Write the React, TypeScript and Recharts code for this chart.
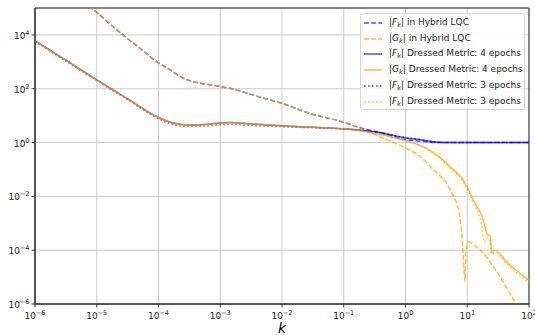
import { LineChart, Line, XAxis, YAxis, CartesianGrid, ReferenceArea } from 'recharts';

// tick values
const xMajor = [1e-6, 1e-5, 1e-4, 1e-3, 1e-2, 1e-1, 1, 10, 100];
const xMinor = xMajor.slice(0, -1).flatMap((d) => [2, 3, 4, 5, 6, 7, 8, 9].map((m) => m * d));
const yTicks = [1e-6, 1e-4, 1e-2, 1, 1e2, 1e4];

// Hybrid LQC, F and G coincide up to k ~ 0.2
const hybridSharedK = [6e-6, 8.3e-6, 1e-5, 2.66e-5, 5e-5, 1e-4, 1.55e-4, 2.2e-4, 3.2e-4, 4.7e-4, 7.6e-4, 1.2e-3, 1.6e-3, 4e-3, 9.3e-3, 3.2e-2, 8.7e-2, 0.18];
const hybridSharedV = [1.7e5, 1e5, 6.9e4, 1e4, 3.2e3, 910, 500, 290, 200, 160, 135, 112, 98, 52, 30, 11, 6.2, 3.6];
const hybridFTailK = [0.4, 1, 1.7, 2.8, 5, 100];
const hybridFTailV = [2.3, 1.29, 1.14, 1.01, 1.0, 1.0];
const hybridGTailK = [0.39, 1, 1.7, 2.8, 5.25, 7.6, 8.5, 9.2, 9.55, 9.9, 10.7, 12.9, 59, 71];
const hybridGTailV = [1.6, 0.63, 0.31, 0.1, 0.018, 1.8e-3, 1.1e-4, 7e-6, 9e-5, 1.6e-4, 2.0e-4, 1.55e-4, 1.2e-6, 5.6e-7];

// Dressed metric, 4 epochs
const dressed4K = [1e-6, 3.16e-6, 1e-5, 3.16e-5, 1e-4, 1.8e-4, 3.2e-4, 5.6e-4, 1.45e-3, 3.2e-3, 1e-2, 3.2e-2, 0.11];
const dressed4V = [6000, 1150, 215, 42, 8.5, 5.2, 4.5, 4.7, 5.6, 4.9, 4.2, 3.7, 3.2];
const dressedF4TailK = [0.38, 1, 1.7, 2.8, 4, 100];
const dressedF4TailV = [2.35, 1.5, 1.3, 1.07, 1.0, 1.0];
const dressedG4TailK = [0.38, 1, 1.7, 2.8, 5.2, 9.1, 12.3, 18, 20.9, 23.4, 25.1, 28.2, 43.6, 100];
const dressedG4TailV = [2.05, 1.2, 0.8, 0.43, 0.13, 0.033, 7.9e-3, 1.4e-3, 4e-4, 3.3e-4, 8.5e-5, 1.0e-4, 3.6e-5, 7.6e-6];

// Dressed metric, 3 epochs
const dressed3K = [1e-6, 3.16e-6, 1e-5, 3.16e-5, 1e-4, 1.8e-4, 3.2e-4, 5.6e-4, 1.45e-3, 3.2e-3, 1e-2, 3.2e-2, 0.11];
const dressed3V = [5750, 1070, 200, 40, 7.6, 4.6, 4.0, 4.1, 4.8, 4.3, 3.9, 3.55, 3.15];
const dressedF3TailK = [0.38, 1, 1.7, 2.8, 4, 100];
const dressedF3TailV = [2.35, 1.5, 1.3, 1.07, 1.0, 1.0];
const dressedG3TailK = [0.38, 1, 1.7, 2.8, 5.2, 9.1, 12.3, 16.6, 19, 20.4, 22.9, 25.1, 28.2, 43.6, 100];
const dressedG3TailV = [2.0, 1.15, 0.76, 0.4, 0.117, 0.028, 6.3e-3, 1.1e-3, 2e-4, 2.8e-4, 2.5e-4, 7e-5, 8.3e-5, 3e-5, 6.3e-6];

const toRows = (k: number[], v: number[]) => k.map((kk, i) => ({ k: kk, v: v[i] }));

const BLUE = '#0000ff';
const ORANGE = '#ffa500';
const FONT = '"DejaVu Sans", sans-serif';

const series = [
  { id: 'hF', sym: 'F', label: ' in Hybrid LQC', color: BLUE, op: 0.7, dash: '5 2.2', data: toRows([...hybridSharedK, ...hybridFTailK], [...hybridSharedV, ...hybridFTailV]) },
  { id: 'hG', sym: 'G', label: ' in Hybrid LQC', color: ORANGE, op: 0.75, dash: '5 2.2', data: toRows([...hybridSharedK, ...hybridGTailK], [...hybridSharedV, ...hybridGTailV]) },
  { id: 'd4F', sym: 'F', label: ' Dressed Metric: 4 epochs', color: BLUE, op: 0.7, dash: undefined, data: toRows([...dressed4K, ...dressedF4TailK], [...dressed4V, ...dressedF4TailV]) },
  { id: 'd4G', sym: 'G', label: ' Dressed Metric: 4 epochs', color: ORANGE, op: 0.75, dash: undefined, data: toRows([...dressed4K, ...dressedG4TailK], [...dressed4V, ...dressedG4TailV]) },
  { id: 'd3F', sym: 'F', label: ' Dressed Metric: 3 epochs', color: BLUE, op: 0.7, dash: '1.5 2.5', data: toRows([...dressed3K, ...dressedF3TailK], [...dressed3V, ...dressedF3TailV]) },
  { id: 'd3G', sym: 'F', label: ' Dressed Metric: 3 epochs', color: ORANGE, op: 0.75, dash: '1.5 2.5', data: toRows([...dressed3K, ...dressedG3TailK], [...dressed3V, ...dressedG3TailV]) },
];

const expText = (v: number) => {
  const e = Math.round(Math.log10(v));
  return e < 0 ? '\u2212' + -e : String(e);
};

function XTick({ x, y, payload }: any) {
  return (
    <text x={x} y={y + 9.5} textAnchor="middle" fontFamily={FONT} fontSize={9} fill="#262626">
      10<tspan dy={-4} fontSize={6.5}>{expText(payload.value)}</tspan>
    </text>
  );
}

function YTick({ x, y, payload }: any) {
  return (
    <text x={x} y={y + 4} textAnchor="end" fontFamily={FONT} fontSize={9} fill="#262626">
      10<tspan dy={-4} fontSize={6.5}>{expText(payload.value)}</tspan>
    </text>
  );
}

function LegendBox() {
  return (
    <div
      style={{
        position: 'absolute', left: 360, top: 13, width: 165, height: 97, boxSizing: 'border-box',
        border: '1px solid #d6d6d6', borderRadius: 3, background: 'rgba(255,255,255,0.8)',
        fontFamily: FONT, fontSize: 9, color: '#262626', paddingTop: 1,
      }}
    >
      {series.map((s) => (
        <div key={s.id} style={{ display: 'flex', alignItems: 'center', height: 15.8, whiteSpace: 'nowrap' }}>
          <svg width={18} height={8} style={{ marginLeft: 3, marginRight: 7 }}>
            <line x1={0} y1={4} x2={18} y2={4} stroke={s.color} strokeOpacity={s.op} strokeWidth={1.5} strokeDasharray={s.dash} />
          </svg>
          <span>
            |<i>{s.sym}</i><i style={{ fontSize: 6.5, verticalAlign: -2 }}>k</i>|{s.label}
          </span>
        </div>
      ))}
    </div>
  );
}

export default function App() {
  return (
    <div style={{ position: 'absolute', left: 0, top: 0, width: 535, height: 335, background: '#fff' }}>
      <LineChart width={535} height={335} margin={{ top: 8, right: 6, bottom: 0, left: 0 }}>
        <CartesianGrid stroke="#cbcbcb" strokeWidth={1} />
        <XAxis
          xAxisId="minor"
          type="number"
          dataKey="k"
          scale="log"
          domain={[1e-6, 1e2]}
          allowDataOverflow
          ticks={xMinor}
          interval={0}
          tick={false}
          tickSize={2}
          tickLine={{ stroke: '#262626', strokeWidth: 0.7 }}
          axisLine={false}
          height={0}
        />
        <XAxis
          type="number"
          dataKey="k"
          scale="log"
          domain={[1e-6, 1e2]}
          allowDataOverflow
          ticks={xMajor}
          interval={0}
          tick={<XTick />}
          tickSize={3.5}
          tickLine={{ stroke: '#262626', strokeWidth: 0.9 }}
          axisLine={{ stroke: '#262626', strokeWidth: 1 }}
          height={31}
          label={{ value: 'k', position: 'insideBottom', offset: 2, style: { fontStyle: 'italic', fontSize: 14, fontFamily: FONT, fill: '#000' } }}
        />
        <YAxis
          type="number"
          scale="log"
          domain={[1e-6, 1e5]}
          allowDataOverflow
          ticks={yTicks}
          interval={0}
          tick={<YTick />}
          tickSize={3.5}
          tickLine={{ stroke: '#262626', strokeWidth: 0.9 }}
          axisLine={{ stroke: '#262626', strokeWidth: 1 }}
          width={35}
        />
        {series.map((s) => (
          <Line
            key={s.id}
            data={s.data}
            dataKey="v"
            type="monotone"
            stroke={s.color}
            strokeOpacity={s.op}
            strokeWidth={1.5}
            strokeDasharray={s.dash}
            dot={false}
            activeDot={false}
            isAnimationActive={false}
          />
        ))}
        <ReferenceArea x1={1e-6} x2={1e2} y1={1e-6} y2={1e5} fill="none" stroke="#262626" strokeWidth={1} />
      </LineChart>
      <LegendBox />
    </div>
  );
}
